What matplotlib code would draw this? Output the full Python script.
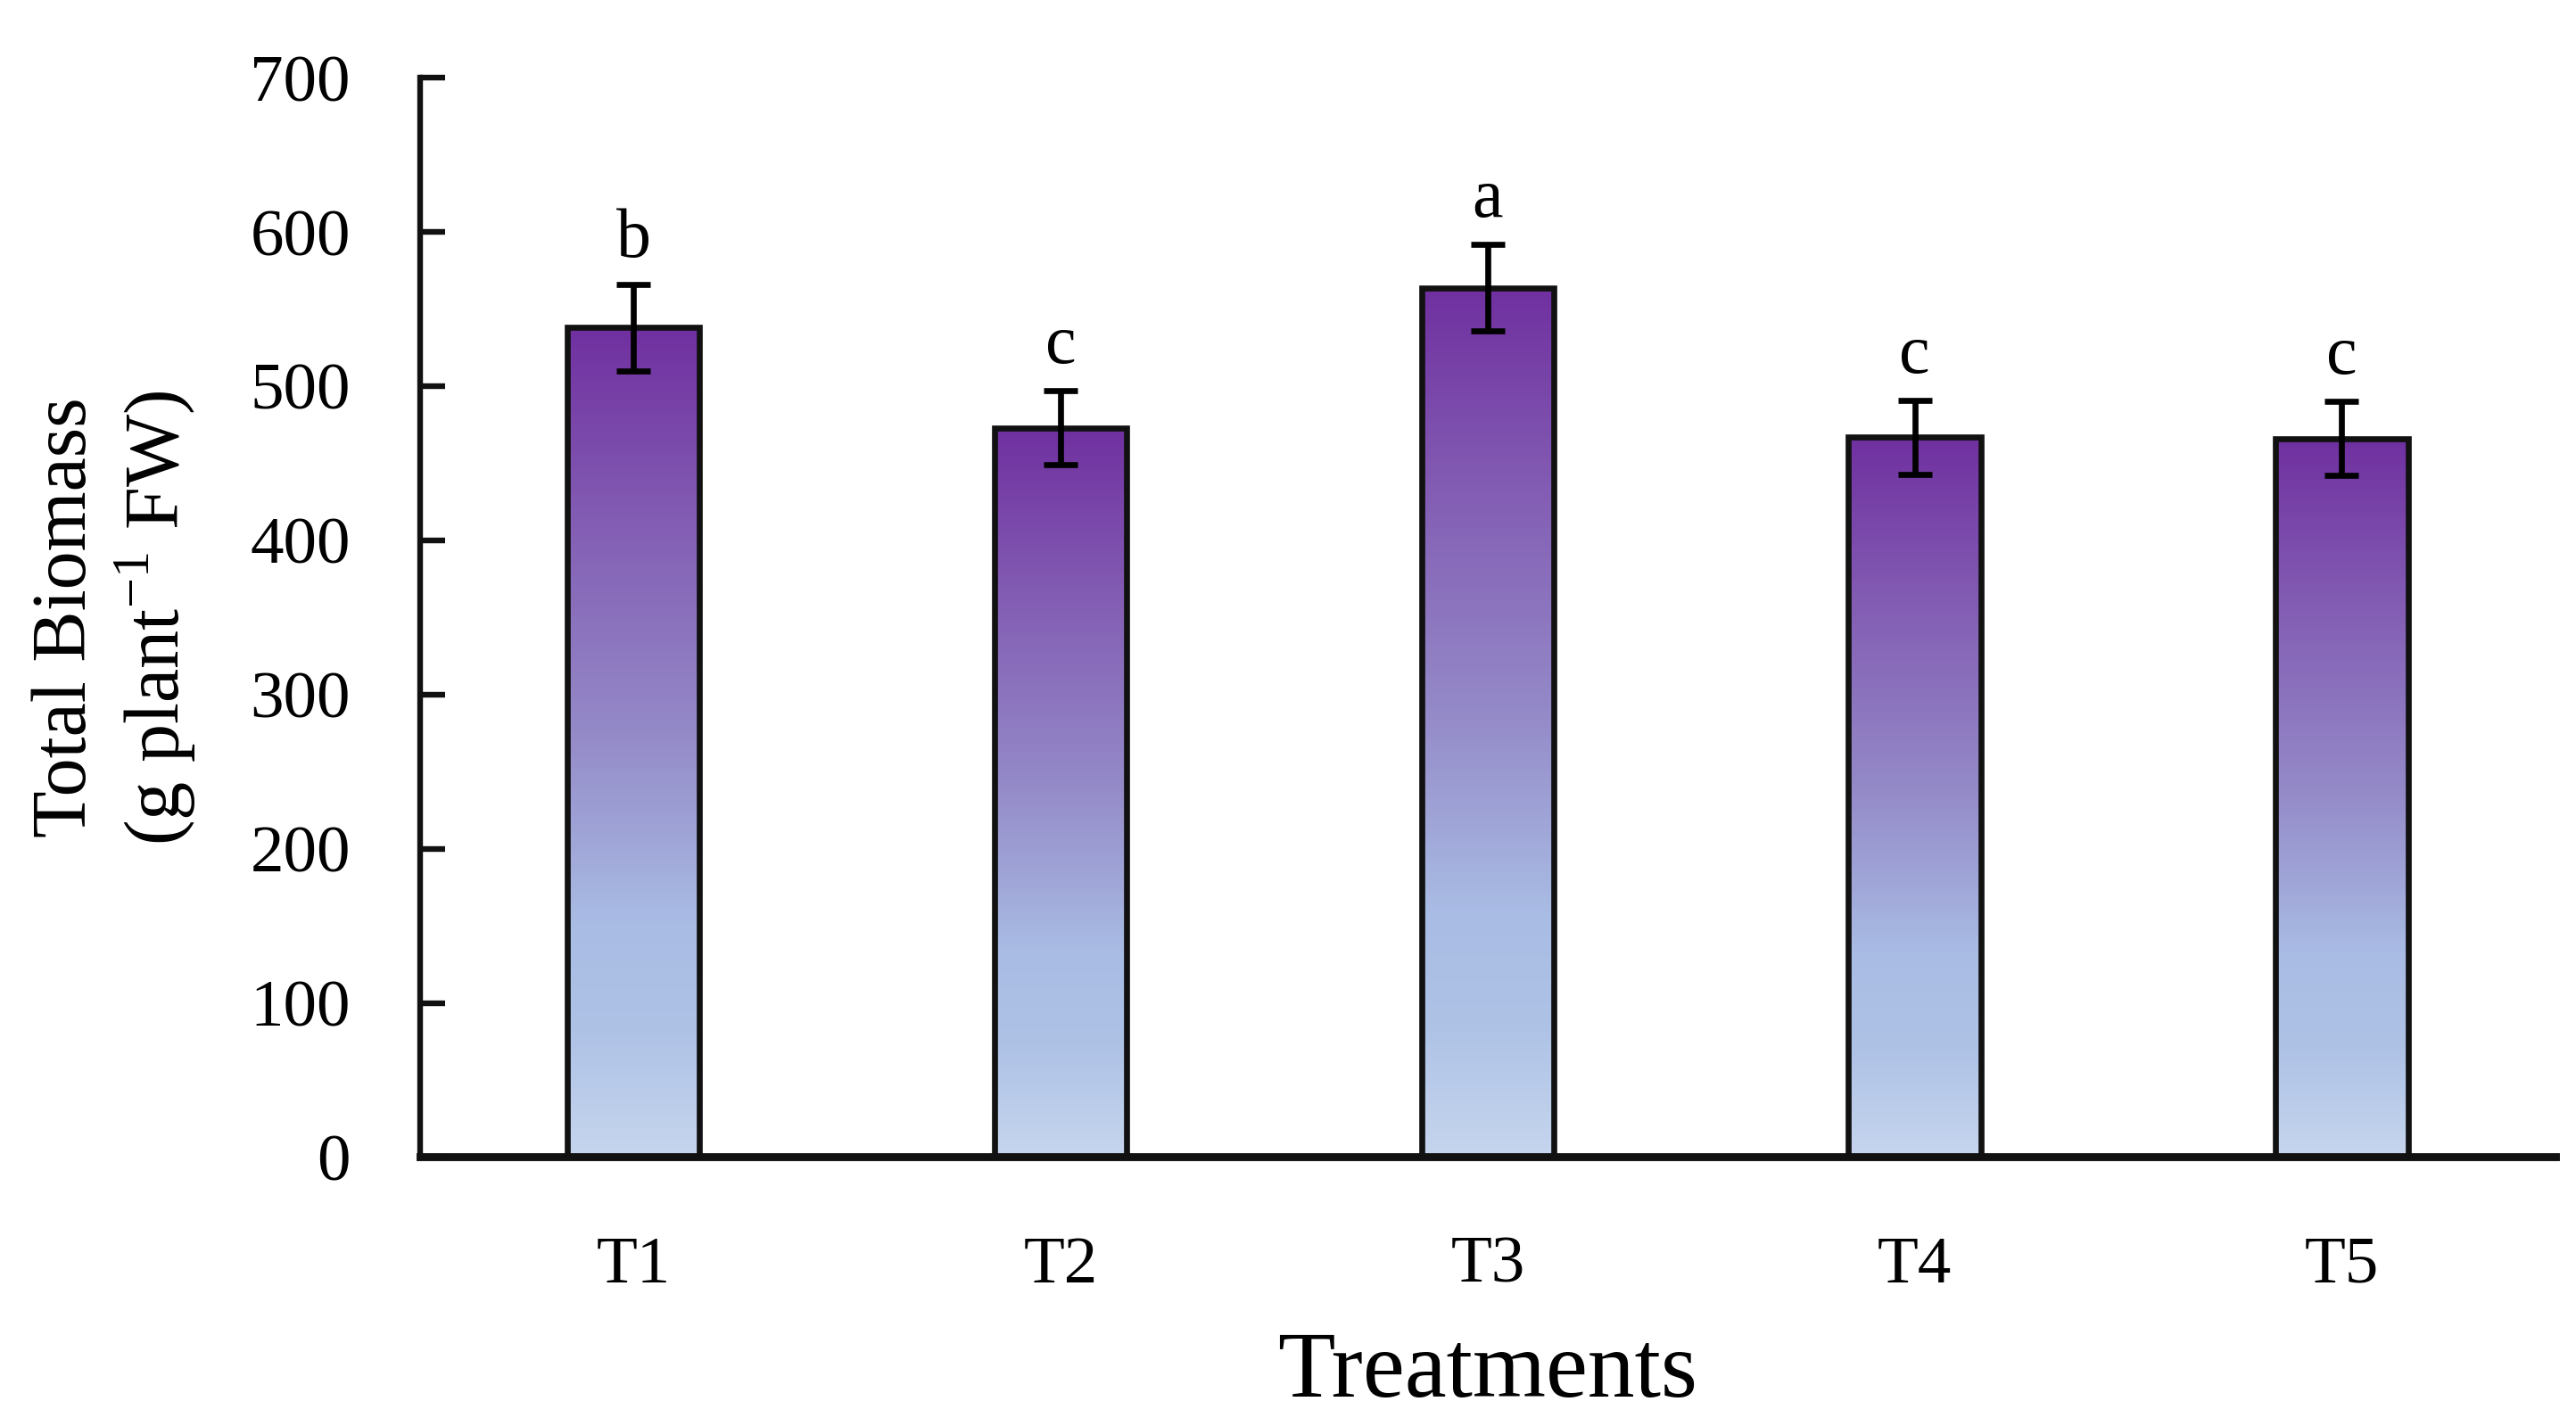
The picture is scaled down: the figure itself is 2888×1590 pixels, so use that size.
import numpy as np
import matplotlib.pyplot as plt
from matplotlib.colors import LinearSegmentedColormap

treatments = ['T1', 'T2', 'T3', 'T4', 'T5']
biomass = [538, 473, 564, 467, 466]
errors = [28, 24, 28, 24, 24]
letters = ['b', 'c', 'a', 'c', 'c']

plt.rcParams['font.family'] = 'Liberation Serif'
plt.rcParams['mathtext.fontset'] = 'custom'
plt.rcParams['mathtext.rm'] = 'Liberation Serif'

# purple top -> light blue bottom
grad = LinearSegmentedColormap.from_list('bar', [
    (0.0, '#C6D5EE'), (0.15, '#AEC2E6'), (0.28, '#A9BCE4'),
    (0.5, '#958CC9'), (0.75, '#8460B5'), (1.0, '#7030A0')])

fig = plt.figure(figsize=(14.44, 7.95), dpi=200)
ax = fig.add_axes([0.163, 0.184, 0.829, 0.761])

x = np.arange(len(treatments))
bars = ax.bar(x, biomass, width=0.31, facecolor='none',
              edgecolor='#111111', linewidth=2.4, zorder=3)
g = np.linspace(0, 1, 256).reshape(-1, 1)
for b in bars:
    x0, y0 = b.get_x(), b.get_y()
    ax.imshow(g, cmap=grad, origin='lower', aspect='auto', zorder=2,
              extent=[x0, x0 + b.get_width(), y0, y0 + b.get_height()])

ax.errorbar(x, biomass, yerr=errors, fmt='none', ecolor='black',
            elinewidth=2.4, capsize=7, capthick=2.4, zorder=4)

for xi, v, e, l in zip(x, biomass, errors, letters):
    ax.text(xi, v + e + 18, l, ha='center', va='baseline', fontsize=28)

ax.set_xlim(-0.5, 4.5)
ax.set_ylim(0, 700)
ax.set_yticks(range(0, 701, 100))
ax.set_xticks(x)
ax.set_xticklabels(treatments)

ax.spines['top'].set_visible(False)
ax.spines['right'].set_visible(False)
ax.spines['left'].set_linewidth(2.3)
ax.spines['bottom'].set_linewidth(3.2)
ax.spines['left'].set_color('#111111')
ax.spines['bottom'].set_color('#111111')

ax.tick_params(axis='y', direction='in', length=10, width=2.3, pad=28,
               labelsize=27, color='#111111')
ax.tick_params(axis='x', length=0, pad=32, labelsize=27)

ax.set_ylabel('Total Biomass\n(g plant$^{-1}$ FW)', fontsize=31, linespacing=1.15)
ax.yaxis.set_label_coords(-0.143, 0.5)
ax.yaxis.label.set_va('center')
ax.set_xlabel('Treatments', fontsize=38, labelpad=14)

fig.savefig('out.png', dpi=200)
